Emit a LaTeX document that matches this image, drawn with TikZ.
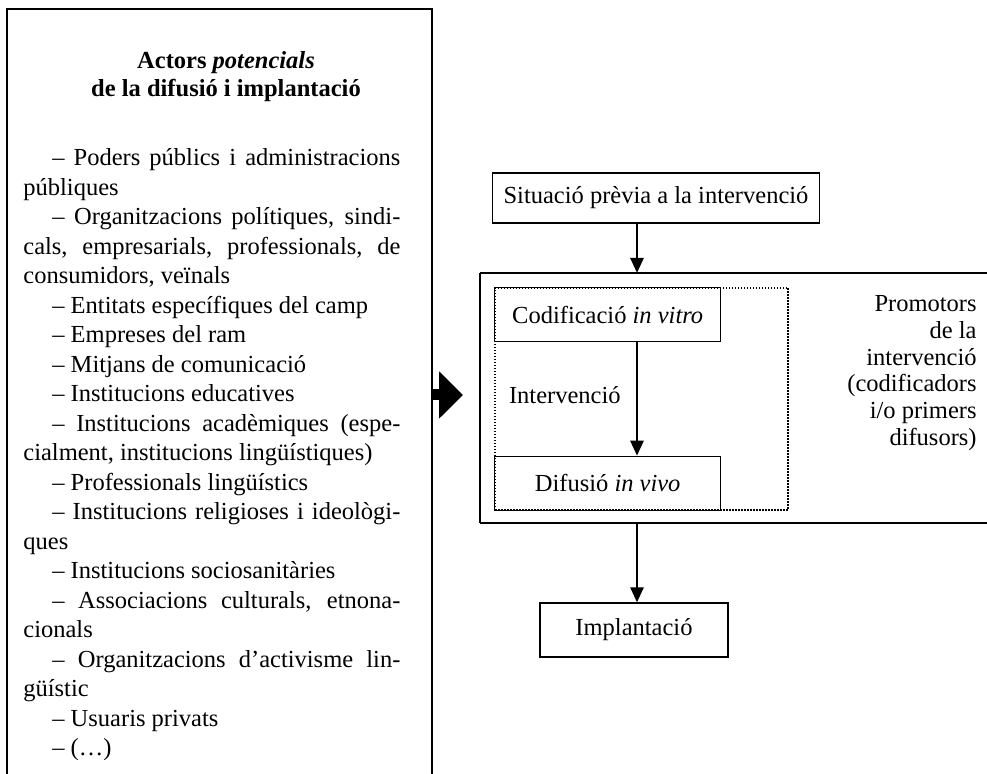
\documentclass[tikz,border=0pt]{standalone}
\usepackage{fontspec}
\setmainfont{Liberation Serif}
\usetikzlibrary{arrows.meta,positioning}
\tikzset{
    %Define standard arrow tip
    >={Triangle[length=7.5pt,width=6.5pt]},
    %Define style for boxes
    box/.style={
      rectangle,
      draw=black, line width=0.6pt,
      inner sep=0pt,
      text centered},
    %Define style for the dotted frame
    dotbox/.style={
      rectangle,
      draw=black, line width=0.9pt,
      dash pattern=on 0.75pt off 0.75pt,
      inner sep=0pt},
    % Define arrow style
    arr/.style={
      ->,
      line width=1.3pt},
    % Define big block arrow
    bigarr/.style={
      line width=5.5pt,
      -{Triangle[length=12pt,width=23pt]}},
}
% one line of the list
\newcommand{\ditem}{\par\noindent\hspace*{14.5pt}--\ }

\begin{document}
\begin{tikzpicture}[x=0.5pt, y=-0.5pt, font=\fontsize{12.25}{14.75}\selectfont]
    \useasboundingbox (0,0) rectangle (987,774);
    % left column: actors
    \draw[line width=0.6pt] (7,774) -- (7,9) -- (432,9) -- (432,774);
    \node[font=\fontsize{12.25}{14}\selectfont\bfseries, align=center] (titol) at (226,77)
      {Actors \textit{potencials}\\de la difusió i implantació};
    \node[anchor=north west, text width=188.5pt, inner sep=0pt, align=justify] (actors) at (23,136) {%
      \ditem Poders públics i administracions\linebreak públiques
      \ditem Organitzacions polítiques, sindi-\linebreak cals, empresarials, professionals, de\linebreak consumidors, veïnals
      \ditem Entitats específiques del camp
      \ditem Empreses del ram
      \ditem Mitjans de comunicació
      \ditem Institucions educatives
      \ditem Institucions acadèmiques (espe-\linebreak cialment, institucions lingüístiques)
      \ditem Professionals lingüístics
      \ditem Institucions religioses i ideològi-\linebreak ques
      \ditem Institucions sociosanitàries
      \ditem Associacions culturals, etnona-\linebreak cionals
      \ditem Organitzacions d’activisme lin-\linebreak güístic
      \ditem Usuaris privats
      \ditem (…)};
    \coordinate (actE) at (432,395);
    \coordinate (tip) at (463,395);
    \draw[bigarr] (actE) -- (tip);

    % right column: process
    \coordinate (col) at (637,0);
    \coordinate (promNW) at (480,273);
    \coordinate (promSW) at (480,523);
    \draw[line width=1.3pt] (promNW) -- (990,273);
    \draw[line width=1.3pt] (promSW) -- (990,523);
    \draw[line width=0.6pt] (promNW) -- (promSW);
    \node[box, minimum width=163.5pt, minimum height=25pt] (situacio) at (656,198)
      {Situació prèvia a la intervenció};
    \node[dotbox, minimum width=146.5pt, minimum height=111pt] (interv) at (641.5,399) {};
    \node[box, anchor=north west, minimum width=113pt, minimum height=27pt] (codif) at (interv.north west)
      {Codificació \textit{in vitro}};
    \node[box, anchor=south west, minimum width=113pt, minimum height=27pt] (difus) at (interv.south west)
      {Difusió \textit{in vivo}};
    \node[anchor=west] (intlabel) at (502,395) {Intervenció};
    \node[box, minimum width=94pt, minimum height=27pt] (implant) at (634,630) {Implantació};
    \node[align=right, anchor=east, inner sep=0pt, font=\fontsize{12.25}{13.4}\selectfont] (promot) at (977,373)
      {Promotors\\de la\\intervenció\\(codificadors\\i/o primers\\difusors)};
    \draw[arr] (situacio.south -| col) -- (promNW -| col);
    \draw[arr] (codif.south -| col) -- (difus.north -| col);
    \draw[arr] (promSW -| col) -- (implant.north -| col);
\end{tikzpicture}
\end{document}
